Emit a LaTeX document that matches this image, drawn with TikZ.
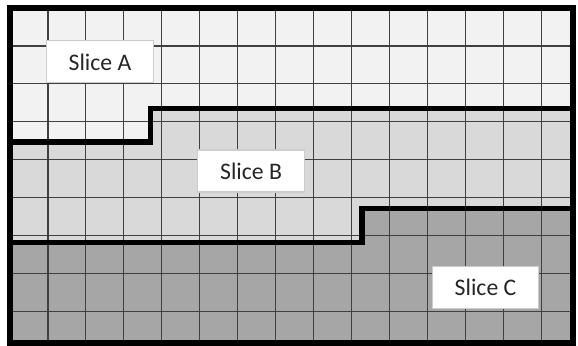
\documentclass[tikz,border=0pt]{standalone}
\usepackage{fontspec}
\setmainfont{Carlito}
\definecolor{sliceA}{HTML}{F2F2F2}
\definecolor{sliceB}{HTML}{D9D9D9}
\definecolor{sliceC}{HTML}{A6A6A6}
\tikzset{
  cellgrid/.style={black!75, line width=0.9pt},
  cut/.style={black, line width=4pt},
  slicelabel/.style={fill=white, draw=black!20, line width=0.8pt,
    minimum width=80pt, minimum height=31.5pt, inner sep=0pt,
    text=black!85, font=\fontsize{17.8}{20}\selectfont}
}
\begin{document}
\begin{tikzpicture}
\begin{scope}[x=26.4pt, y=-25.1pt]
  \useasboundingbox (-0.284,-0.239) rectangle (16.136,10.09);
  % Slices
  \fill[sliceA] (0,0) -- (16,0) -- (16,3) -- (4,3) -- (4,4) -- (0,4) -- cycle;
  \fill[sliceB] (0,4) -- (4,4) -- (4,3) -- (16,3) -- (16,6) -- (10,6) -- (10,7) -- (0,7) -- cycle;
  \fill[sliceC] (0,7) -- (10,7) -- (10,6) -- (16,6) -- (16,10) -- (0,10) -- cycle;

  % Cells
  \draw[cellgrid] (0,0) grid (16,10);

  % Slice borders
  \draw[cut] (0,4) -- (4,4) -- (4,3) -- (16,3);
  \draw[cut] (0,7) -- (10,7) -- (10,6) -- (16,6);
  \draw[cut, line width=4.5pt] (0,0) rectangle (16,10);

  % Labels
  \node[slicelabel] (labelA) at (2.557,1.61) {Slice A};
  \node[slicelabel] (labelB) at (6.85,4.87) {Slice B};
  \node[slicelabel] (labelC) at (13.51,8.36) {Slice C};
\end{scope}
\end{tikzpicture}
\end{document}
